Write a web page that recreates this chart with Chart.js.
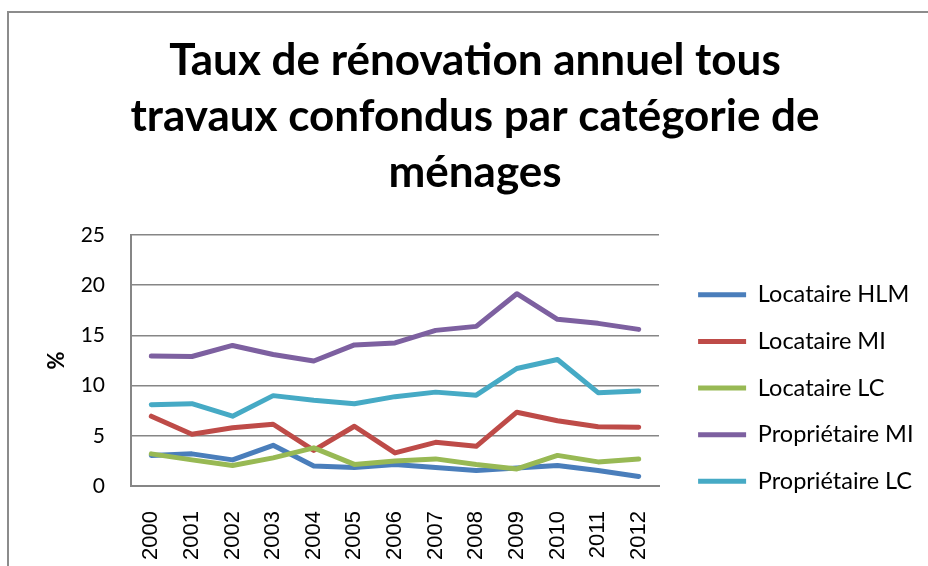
<!DOCTYPE html>
<html>
<head>
<meta charset="utf-8">
<script src="https://cdn.jsdelivr.net/npm/chart.js@4/dist/chart.umd.min.js"></script>
<style>
	body { margin: 0; background: #fff; }
	#wrap { position: relative; width: 928px; height: 566px; overflow: hidden; }
	#frame { position: absolute; left: 7px; top: 11px; width: 960px; height: 600px; border-top: 2px solid #8c8c8c; border-left: 2px solid #8c8c8c; pointer-events: none; }
	canvas { display: block; }
</style>
</head>
<body>
<div id="wrap">
	<canvas id="chart" width="928" height="566"></canvas>
	<div id="frame"></div>
</div>
<script>

const years = [ '2000', '2001', '2002', '2003', '2004', '2005', '2006', '2007', '2008', '2009', '2010', '2011', '2012' ];

const seriesNames = [ 'Locataire HLM', 'Locataire MI', 'Locataire LC', 'Propriétaire MI', 'Propriétaire LC' ];

const locataireHLM = [ 3.05, 3.2, 2.6, 4.05, 2.0, 1.85, 2.15, 1.85, 1.55, 1.8, 2.05, 1.55, 0.95 ];
const locataireMI = [ 6.95, 5.15, 5.8, 6.15, 3.55, 5.95, 3.3, 4.35, 3.95, 7.35, 6.5, 5.9, 5.85 ];
const locataireLC = [ 3.2, 2.6, 2.05, 2.8, 3.8, 2.15, 2.5, 2.7, 2.15, 1.7, 3.05, 2.4, 2.7 ];
const proprietaireMI = [ 12.95, 12.9, 14.0, 13.1, 12.45, 14.05, 14.25, 15.5, 15.9, 19.15, 16.6, 16.2, 15.6 ];
const proprietaireLC = [ 8.1, 8.2, 6.95, 9.0, 8.55, 8.2, 8.9, 9.35, 9.05, 11.7, 12.6, 9.3, 9.45 ];

const yTicks = [ 0, 5, 10, 15, 20, 25 ];

const colours = [ '#4a7ebb', '#be4b48', '#98b954', '#7d60a0', '#46aac5' ];

const titleLines = [ 'Taux de rénovation annuel tous', 'travaux confondus par catégorie de', 'ménages' ];

// layout targets
const plotLeft = 131;
const plotRight = 659;
const plotBottom = 486;
const legendShift = { x: 16, y: 260 };

const legendFix = {
	id: 'legendFix',

	beforeLayout ( chart ) {

		const legend = chart.legend;

		if ( legend && ! legend._fixed ) {

			const fit = legend.fit;

			legend.fit = function () {

				fit.call( this );
				this.width = chart.width - plotRight;

			};

			legend._fixed = true;

		}

	},

	afterLayout ( chart ) {

		const legend = chart.legend;

		legend.left += legendShift.x;
		legend.right += legendShift.x;
		legend.top += legendShift.y;
		legend.bottom += legendShift.y;

	}
};

const allSeries = [ locataireHLM, locataireMI, locataireLC, proprietaireMI, proprietaireLC ];

const datasets = allSeries.map( ( values, i ) => ( {
	label: seriesNames[ i ],
	data: values,
	borderColor: colours[ i ],
	backgroundColor: colours[ i ],
	borderWidth: 5,
	borderCapStyle: 'round',
	borderJoinStyle: 'round',
	pointRadius: 0,
	tension: 0,
	order: allSeries.length - i
} ) );

const config = {
	type: 'line',
	data: {
		labels: years,
		datasets: datasets
	},
	options: {
		responsive: false,
		animation: false,
		devicePixelRatio: 1,
		layout: {
			padding: { left: 22, right: 0, top: 0, bottom: 0 }
		},
		plugins: {
			title: {
				display: true,
				text: titleLines,
				color: '#000',
				font: { family: 'Lato', weight: 'bold', size: 44, lineHeight: '56px' },
				padding: { top: 33, bottom: 34 }
			},
			legend: {
				position: 'right',
				align: 'start',
				fullSize: true,
				labels: {
					usePointStyle: true,
					pointStyle: 'line',
					pointStyleWidth: 48,
					padding: 23.1,
					color: '#000',
					font: { family: 'Lato', size: 23.5 },
					sort: ( a, b ) => a.datasetIndex - b.datasetIndex
				}
			},
			tooltip: { enabled: false }
		},
		scales: {
			x: {
				offset: true,
				grid: { display: false },
				border: { display: true, color: '#868686', width: 2 },
				ticks: {
					autoSkip: false,
					minRotation: 90,
					maxRotation: 90,
					padding: 17,
					color: '#000',
					font: { family: 'Liberation Sans', size: 22 }
				},
				afterFit: scale => { scale.height = 566 - plotBottom; }
			},
			y: {
				min: 0,
				max: 25,
				grid: { color: '#868686', lineWidth: 1.5, drawTicks: false },
				border: { display: true, color: '#868686', width: 2 },
				afterBuildTicks: scale => { scale.ticks = yTicks.map( v => ( { value: v } ) ); },
				ticks: {
					padding: 26,
					color: '#000',
					font: { family: 'Lato', size: 21 }
				},
				title: {
					display: true,
					text: '%',
					color: '#000',
					font: { family: 'Lato', weight: 'bold', size: 22 },
					padding: { top: 22, bottom: 0 }
				},
				afterFit: scale => { scale.width = plotLeft - 22; }
			}
		}
	},
	plugins: [ legendFix ]
};

new Chart( document.getElementById( 'chart' ), config );

</script>
</body>
</html>
